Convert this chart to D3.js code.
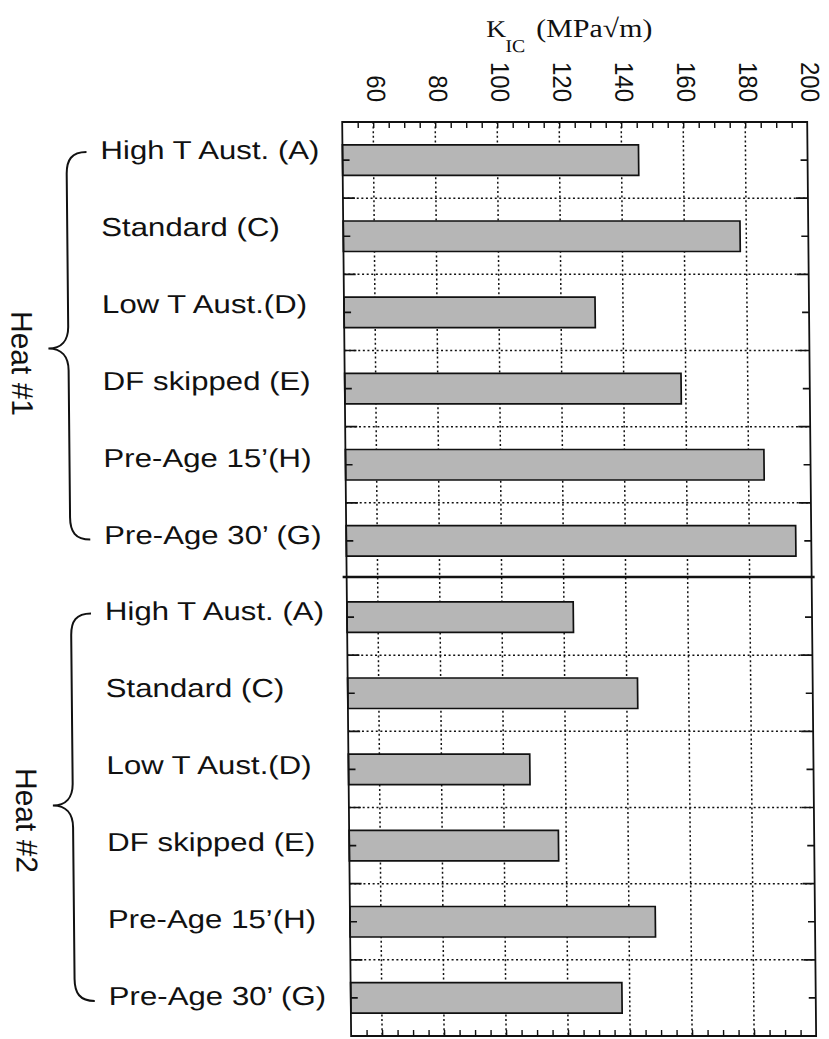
<!DOCTYPE html>
<html>
<head>
<meta charset="utf-8">
<script src="https://cdn.jsdelivr.net/npm/d3@7"></script>
<style>
  html, body { margin: 0; padding: 0; background: #fff; }
  svg { display: block; }
</style>
</head>
<body>
<svg id="chart" width="829" height="1039"></svg>
<script>
// ---- data ----
const categories = ["High T Aust. (A)", "Standard (C)", "Low T Aust.(D)", "DF skipped (E)", "Pre-Age 15\u2019(H)", "Pre-Age 30\u2019 (G)"];
const groups = ["Heat #1", "Heat #2"];
const heat1Values = [145.5, 178, 131, 158.5, 185, 195];
const heat2Values = [123, 143.5, 108.5, 117.5, 148.5, 137.5];
const xTickLabels = [60, 80, 100, 120, 140, 160, 180, 200];
const xDomain = [50, 200];

const seriesByGroup = [heat1Values, heat2Values];
const rows = [];
groups.forEach((g, gi) => categories.forEach((c, ci) => rows.push({ key: g + "|" + c, group: g, cat: c, value: seriesByGroup[gi][ci] })));

// ---- layout ----
const svg = d3.select("#chart");
svg.append("rect").attr("width", 829).attr("height", 1039).attr("fill", "#fff");
const root = svg.append("g").attr("transform", "skewX(0.56)");

const plotTop = 122, plotBottom = 1036;
const x = d3.scaleLinear().domain(xDomain).range([341, 806]);
const y = d3.scaleBand().domain(rows.map(d => d.key)).range([plotTop, plotBottom]).paddingInner(0).paddingOuter(0);
const step = y.step();
const yLabel = d3.scalePoint().domain(rows.map(d => d.key)).range([159, 1005]);

const x0 = x.range()[0], x1 = x.range()[1];
const ink = "#111";

// vertical dotted gridlines
root.append("g").selectAll("line").data(xTickLabels.filter(v => v < xDomain[1]))
  .join("line")
  .attr("x1", d => x(d)).attr("x2", d => x(d))
  .attr("y1", plotTop).attr("y2", plotBottom)
  .attr("stroke", ink).attr("stroke-width", 1.5).attr("stroke-dasharray", "2,2.6");

// horizontal dotted gridlines at band boundaries (except group separator)
const boundaries = rows.slice(1).map((d, i) => ({ y: y(d.key), sep: (i + 1) % categories.length === 0 }));
root.append("g").selectAll("line").data(boundaries.filter(b => !b.sep))
  .join("line")
  .attr("x1", x0).attr("x2", x1)
  .attr("y1", d => d.y).attr("y2", d => d.y)
  .attr("stroke", ink).attr("stroke-width", 1.5).attr("stroke-dasharray", "2,2.6");

// bars
root.append("g").selectAll("rect").data(rows)
  .join("rect")
  .attr("x", x(xDomain[0]))
  .attr("y", d => y(d.key) + step * 0.3)
  .attr("width", d => x(d.value) - x(xDomain[0]))
  .attr("height", step * 0.4)
  .attr("fill", "#b6b6b6")
  .attr("stroke", ink).attr("stroke-width", 1.7);

// x ticks (top and bottom, inward)
const minorTicks = x.ticks(30).filter(v => v > xDomain[0] && v < xDomain[1]);
root.append("g").attr("transform", `translate(0,${plotTop})`)
  .call(d3.axisTop(x).tickValues(minorTicks).tickSize(-6).tickFormat(""))
  .call(g => g.select(".domain").remove())
  .call(g => g.selectAll("line").attr("stroke", ink).attr("stroke-width", 1.4));
root.append("g").attr("transform", `translate(0,${plotBottom})`)
  .call(d3.axisBottom(x).tickValues(minorTicks).tickSize(-6).tickFormat(""))
  .call(g => g.select(".domain").remove())
  .call(g => g.selectAll("line").attr("stroke", ink).attr("stroke-width", 1.4));

// y ticks: minor at band centers, major at boundaries (left and right, inward)
const yt = root.append("g");
rows.forEach(d => {
  const cy = y(d.key) + step / 2;
  yt.append("line").attr("x1", x0).attr("x2", x0 + 7).attr("y1", cy).attr("y2", cy);
  yt.append("line").attr("x1", x1).attr("x2", x1 - 7).attr("y1", cy).attr("y2", cy);
});
boundaries.filter(b => !b.sep).forEach(b => {
  yt.append("line").attr("x1", x0).attr("x2", x0 + 12).attr("y1", b.y).attr("y2", b.y);
  yt.append("line").attr("x1", x1).attr("x2", x1 - 12).attr("y1", b.y).attr("y2", b.y);
});
yt.selectAll("line").attr("stroke", ink).attr("stroke-width", 1.6);

// frame
root.append("rect").attr("x", x0).attr("y", plotTop).attr("width", x1 - x0).attr("height", plotBottom - plotTop)
  .attr("fill", "none").attr("stroke", ink).attr("stroke-width", 1.8);

// group separator (solid)
root.append("g").selectAll("line").data(boundaries.filter(b => b.sep))
  .join("line")
  .attr("x1", x0 - 4).attr("x2", x1 + 3)
  .attr("y1", d => d.y - 2).attr("y2", d => d.y - 2)
  .attr("stroke", ink).attr("stroke-width", 2.4);

// x tick labels (rotated)
root.append("g").selectAll("text").data(xTickLabels)
  .join("text")
  .attr("transform", d => `translate(${x(d)},102) rotate(90) scale(1,1.08)`)
  .attr("text-anchor", "end")
  .attr("dy", "0.22em")
  .attr("font-family", "'Liberation Sans', Arial, sans-serif")
  .attr("font-size", 24)
  .attr("fill", ink)
  .text(d => d);

// axis title: K_IC (MPa√m)
const tf = "'Liberation Serif', 'Times New Roman', serif";
root.append("text").attr("transform", "translate(486,37) scale(1.15,1)")
  .attr("font-family", tf).attr("font-size", 24).attr("fill", ink).text("K");
root.append("text").attr("transform", "translate(505,52) scale(1.1,1)")
  .attr("font-family", tf).attr("font-size", 18).attr("fill", ink).text("IC");
root.append("text").attr("transform", "translate(536,37) scale(1.15,1)")
  .attr("font-family", tf).attr("font-size", 26).attr("fill", ink).text("(MPa\u221Am)");

// category labels
root.append("g").selectAll("text").data(rows)
  .join("text")
  .attr("transform", d => `translate(99,${yLabel(d.key)}) scale(1.2,1)`)
  .attr("font-family", "'Liberation Sans', Arial, sans-serif")
  .attr("font-size", 26)
  .attr("fill", ink)
  .text(d => d.cat);

// braces and group labels
groups.forEach(g => {
  const keys = rows.filter(d => d.group === g).map(d => d.key);
  const top = yLabel(keys[0]) - 7;
  const bot = yLabel(keys[keys.length - 1]) - 4;
  const mid = (y(keys[0]) + y(keys[keys.length - 1]) + step) / 2 - 2;
  const xe = 85, xs = 65, xt = 45, r = 22;
  const p = d3.path();
  p.moveTo(xe, top);
  p.bezierCurveTo(70, top, xs, top + 8, xs, top + r);
  p.lineTo(xs, mid - r);
  p.bezierCurveTo(xs, mid - 8, 58, mid, xt, mid);
  p.bezierCurveTo(58, mid, xs, mid + 8, xs, mid + r);
  p.lineTo(xs, bot - r);
  p.bezierCurveTo(xs, bot - 8, 70, bot, xe, bot);
  root.append("path").attr("d", p.toString()).attr("fill", "none").attr("stroke", ink).attr("stroke-width", 2);
  root.append("text")
    .attr("transform", `translate(19,${mid + 15}) rotate(90)`)
    .attr("text-anchor", "middle").attr("dy", "0.36em")
    .attr("font-family", "'Liberation Sans', Arial, sans-serif")
    .attr("font-size", 30).attr("fill", ink)
    .text(g);
});
</script>
</body>
</html>
